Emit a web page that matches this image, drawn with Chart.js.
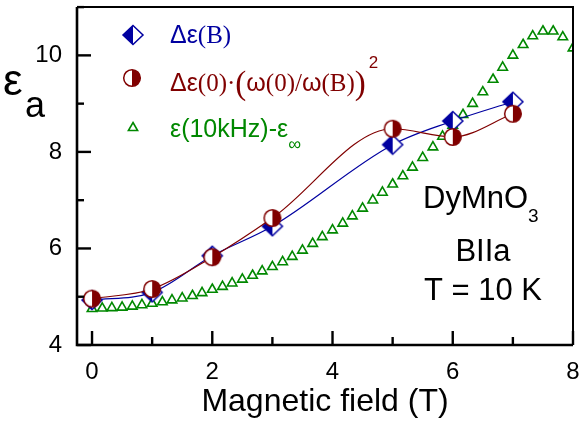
<!DOCTYPE html>
<html>
<head>
<meta charset="utf-8">
<script src="https://cdn.jsdelivr.net/npm/chart.js@4/dist/chart.umd.min.js"></script>
<style>
  html, body { margin: 0; padding: 0; background: #fff; }
  #wrap { width: 581px; height: 421px; }
</style>
</head>
<body>
<div id="wrap"><canvas id="chart" width="581" height="421"></canvas></div>
<script>
// Dados
const fieldPts = [0, 1, 2, 3, 5, 6, 7];
const deltaEpsB = [4.93, 5.09, 5.85, 6.46, 8.15, 8.64, 9.04];
const deltaEpsScaled = [4.96, 5.16, 5.82, 6.63, 8.48, 8.31, 8.79];

const fieldSweep = [0, 0.17, 0.33, 0.5, 0.67, 0.83, 1, 1.17, 1.33, 1.5, 1.67, 1.83,
  2, 2.17, 2.33, 2.5, 2.67, 2.83, 3, 3.17, 3.33, 3.5, 3.67, 3.83,
  4, 4.17, 4.33, 4.5, 4.67, 4.83, 5, 5.17, 5.33, 5.5, 5.67, 5.83,
  6, 6.17, 6.33, 6.5, 6.67, 6.83, 7, 7.17, 7.33, 7.5, 7.67, 7.83, 8];
const epsSweep = [4.75, 4.76, 4.77, 4.78, 4.80, 4.83, 4.86, 4.89, 4.93, 4.97, 5.02, 5.08,
  5.15, 5.21, 5.28, 5.36, 5.44, 5.53, 5.62, 5.72, 5.83, 5.96, 6.10, 6.24,
  6.38, 6.52, 6.67, 6.83, 7.00, 7.16, 7.33, 7.50, 7.68, 7.88, 8.10, 8.32,
  8.55, 8.77, 9.00, 9.24, 9.50, 9.75, 10.00, 10.22, 10.40, 10.50, 10.50, 10.38, 10.15];

const xTickLabels = [0, 2, 4, 6, 8];
const yTickLabels = [4, 6, 8, 10];

const BLUE = '#0000a0';
const RED = '#800000';
const GREEN = '#008800';
const SANS = '"Liberation Sans", Arial, sans-serif';
const SERIF = '"Liberation Serif", "Times New Roman", serif';

// Marcadores meio preenchidos
function makeDiamond() {
    const c = document.createElement('canvas');
    c.width = 24; c.height = 22;
    const g = c.getContext('2d');
    const cx = 12, cy = 11, hw = 10, hh = 9.5;
    g.beginPath();
    g.moveTo(cx, cy - hh); g.lineTo(cx + hw, cy); g.lineTo(cx, cy + hh); g.lineTo(cx - hw, cy); g.closePath();
    g.fillStyle = '#fff'; g.fill();
    g.beginPath();
    g.moveTo(cx, cy - hh); g.lineTo(cx, cy + hh); g.lineTo(cx - hw, cy); g.closePath();
    g.fillStyle = BLUE; g.fill();
    g.beginPath();
    g.moveTo(cx, cy - hh); g.lineTo(cx + hw, cy); g.lineTo(cx, cy + hh); g.lineTo(cx - hw, cy); g.closePath();
    g.strokeStyle = BLUE; g.lineWidth = 1.5; g.stroke();
    return c;
}

function makeHalfCircle() {
    const c = document.createElement('canvas');
    c.width = 20; c.height = 20;
    const g = c.getContext('2d');
    const r = 8.3;
    g.beginPath(); g.arc(10, 10, r, 0, Math.PI * 2);
    g.fillStyle = '#fff'; g.fill();
    g.beginPath(); g.arc(10, 10, r, -Math.PI / 2, Math.PI / 2); g.closePath();
    g.fillStyle = RED; g.fill();
    g.beginPath(); g.arc(10, 10, r, 0, Math.PI * 2);
    g.strokeStyle = RED; g.lineWidth = 1.5; g.stroke();
    return c;
}

const diamondImg = makeDiamond();
const circleImg = makeHalfCircle();

function toXY(xs, ys) {
    return xs.map((x, i) => ({ x: x, y: ys[i] }));
}

// Desenha segmentos de texto com fontes diferentes
function drawRuns(ctx, x, y, runs, color) {
    ctx.fillStyle = color;
    ctx.textBaseline = 'alphabetic';
    ctx.textAlign = 'left';
    for (const r of runs) {
        ctx.font = r.font;
        ctx.fillText(r.t, x, y + (r.dy || 0));
        x += ctx.measureText(r.t).width + (r.gap || 0);
    }
}

function noPadding(scale) {
    scale.paddingTop = 0;
    scale.paddingBottom = 0;
    scale.paddingLeft = 0;
    scale.paddingRight = 0;
}

const framePlugin = {
    id: 'frame',
    afterDraw(chart) {
        const ctx = chart.ctx;
        const a = chart.chartArea;
        const xs = chart.scales.x, ys = chart.scales.y;
        ctx.save();
        ctx.strokeStyle = '#000';
        // moldura
        ctx.lineWidth = 2;
        ctx.beginPath();
        ctx.moveTo(a.left, a.top); ctx.lineTo(a.right, a.top); ctx.lineTo(a.right, a.bottom);
        ctx.stroke();
        ctx.lineWidth = 2.6;
        ctx.beginPath();
        ctx.moveTo(a.left, a.top); ctx.lineTo(a.left, a.bottom); ctx.lineTo(a.right, a.bottom);
        ctx.stroke();
        // ticks para dentro
        ctx.lineWidth = 2.4;
        for (let v = 0; v <= 8; v++) {
            const px = xs.getPixelForValue(v);
            const len = xTickLabels.includes(v) ? 14 : 8;
            ctx.beginPath(); ctx.moveTo(px, a.bottom); ctx.lineTo(px, a.bottom - len); ctx.stroke();
        }
        for (let v = 4; v <= 11; v++) {
            const py = ys.getPixelForValue(v);
            const len = yTickLabels.includes(v) ? 14 : 7;
            ctx.beginPath(); ctx.moveTo(a.left, py); ctx.lineTo(a.left + len, py); ctx.stroke();
        }

        // rótulo do eixo y
        drawRuns(ctx, 3, 95, [{ t: 'ε', font: '44px ' + SANS }], '#000');
        drawRuns(ctx, 25, 117, [{ t: 'a', font: '36px ' + SANS }], '#000');

        // legenda
        ctx.drawImage(diamondImg, 133 - 12, 35 - 11);
        ctx.drawImage(circleImg, 132 - 10, 78 - 10);
        ctx.strokeStyle = GREEN; ctx.lineWidth = 1.6;
        ctx.beginPath();
        ctx.moveTo(133, 122.5); ctx.lineTo(137.6, 130.5); ctx.lineTo(128.4, 130.5); ctx.closePath();
        ctx.stroke();

        const f = 25;
        drawRuns(ctx, 170, 43, [
            { t: 'Δε', font: f + 'px ' + SANS },
            { t: '(B)', font: f + 'px ' + SERIF }
        ], BLUE);
        drawRuns(ctx, 170, 91, [
            { t: 'Δε', font: f + 'px ' + SANS },
            { t: '(0)', font: f + 'px ' + SERIF },
            { t: '·', font: f + 'px ' + SERIF },
            { t: '(', font: '33px ' + SERIF, dy: 3 },
            { t: 'ω', font: f + 'px ' + SANS },
            { t: '(0)', font: f + 'px ' + SERIF },
            { t: '/', font: f + 'px ' + SERIF },
            { t: 'ω', font: f + 'px ' + SANS },
            { t: '(B)', font: f + 'px ' + SERIF },
            { t: ')', font: '33px ' + SERIF, dy: 3, gap: 3 },
            { t: '2', font: '17px ' + SANS, dy: -23 }
        ], RED);
        drawRuns(ctx, 170, 137, [
            { t: 'ε(10kHz)-ε', font: f + 'px ' + SANS },
            { t: '∞', font: '18px ' + SANS, dy: 13 }
        ], GREEN);

        // anotação
        drawRuns(ctx, 423, 208, [
            { t: 'DyMnO', font: '31px ' + SANS },
            { t: '3', font: '19px ' + SANS, dy: 14 }
        ], '#000');
        ctx.fillStyle = '#000';
        ctx.font = '31px ' + SANS;
        ctx.textAlign = 'center';
        ctx.fillText('BIIa', 483, 261);
        ctx.fillText('T = 10 K', 483, 300);
        ctx.restore();
    }
};

const ctx = document.getElementById('chart');

new Chart(ctx, {
    type: 'line',
    data: {
        datasets: [
            {
                label: 'Δε(0)·(ω(0)/ω(B))²',
                data: toXY(fieldPts, deltaEpsScaled),
                borderColor: RED,
                borderWidth: 1.2,
                cubicInterpolationMode: 'monotone',
                pointStyle: circleImg,
                order: 0
            },
            {
                label: 'Δε(B)',
                data: toXY(fieldPts, deltaEpsB),
                borderColor: BLUE,
                borderWidth: 1.2,
                cubicInterpolationMode: 'monotone',
                pointStyle: diamondImg,
                order: 1
            },
            {
                label: 'ε(10kHz)-ε∞',
                data: toXY(fieldSweep, epsSweep),
                showLine: false,
                pointStyle: 'triangle',
                pointRadius: 5.5,
                pointBorderWidth: 1.6,
                pointBorderColor: GREEN,
                pointBackgroundColor: 'rgba(0,0,0,0)',
                order: 2
            }
        ]
    },
    options: {
        responsive: false,
        animation: false,
        layout: { padding: { top: 4, right: 8, left: 0, bottom: 0 } },
        plugins: { legend: { display: false }, tooltip: { enabled: false } },
        scales: {
            x: {
                type: 'linear',
                min: -0.25,
                max: 8,
                afterFit: function(scale) { scale.height = 76; noPadding(scale); },
                grid: { display: false, drawTicks: false },
                border: { display: false },
                ticks: {
                    stepSize: 1,
                    includeBounds: false,
                    padding: 13,
                    color: '#000',
                    font: { family: SANS, size: 24 },
                    maxRotation: 0,
                    autoSkip: false,
                    callback: function(v) { return xTickLabels.includes(v) ? String(v) : ''; }
                },
                title: {
                    display: true,
                    text: 'Magnetic field (T)',
                    color: '#000',
                    font: { family: SANS, size: 32 },
                    padding: { top: 0, bottom: 0 }
                }
            },
            y: {
                type: 'linear',
                min: 4,
                max: 11,
                afterFit: function(scale) { scale.width = 77; noPadding(scale); },
                grid: { display: false, drawTicks: false },
                border: { display: false },
                ticks: {
                    stepSize: 1,
                    padding: 15,
                    color: '#000',
                    font: { family: SANS, size: 24 },
                    autoSkip: false,
                    callback: function(v) { return yTickLabels.includes(v) ? String(v) : ''; }
                }
            }
        }
    },
    plugins: [framePlugin]
});
</script>
</body>
</html>
